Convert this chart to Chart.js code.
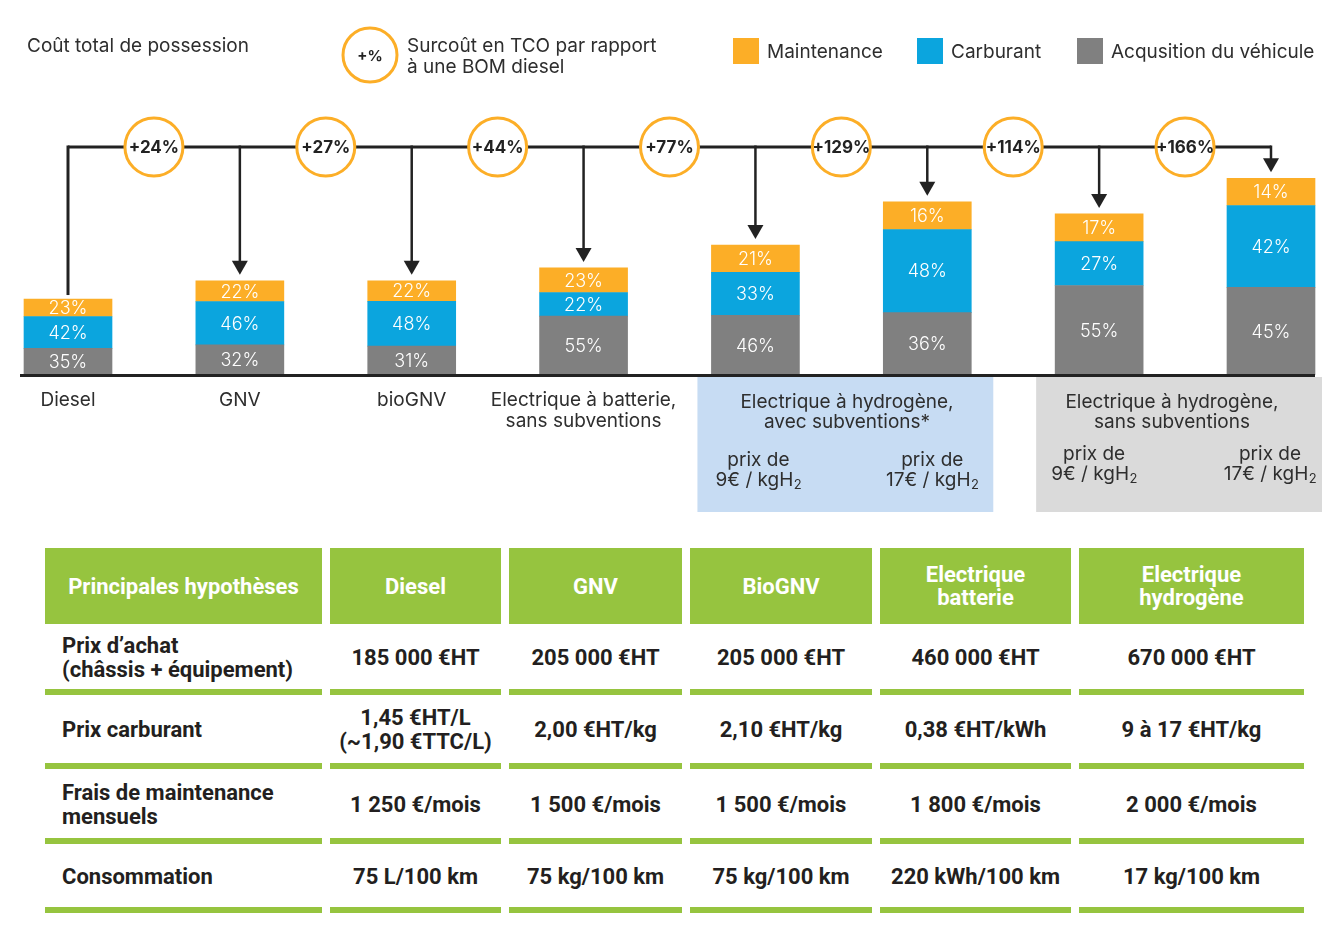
<!DOCTYPE html>
<html lang="fr">
<head>
<meta charset="utf-8">
<title>Coût total de possession</title>
<script src="https://cdn.jsdelivr.net/npm/chart.js@4.4.1/dist/chart.umd.min.js"></script>
<style>
body { margin: 0; background: #fff; font-family: Roboto, sans-serif; }
#wrap { position: relative; width: 1340px; height: 932px; overflow: hidden; }
#graphe { position: absolute; left: 0; top: 0; }
#tableau { position: absolute; left: 45px; top: 548px; display: grid;
  grid-template-columns: 277px 171px 173px 182px 191px 225px;
  grid-template-rows: 76px 71px 74px 75px 69px; column-gap: 8px; }
.th { background: #96c43f; color: #fff; font-weight: 700; font-size: 22px; line-height: 23px;
  display: flex; align-items: center; justify-content: center; text-align: center; white-space: pre-line; }
.td { box-sizing: border-box; border-bottom: 6px solid #96c43f; display: flex; align-items: center;
  justify-content: center; text-align: center; font-weight: 700; font-size: 22px; line-height: 24px;
  color: #231f20; white-space: pre-line; padding-top: 2px; }
.td.lab { justify-content: flex-start; text-align: left; padding-left: 17px; }
</style>
</head>
<body>
<div id="wrap">
  <canvas id="graphe" width="1340" height="530"></canvas>
  <div id="tableau"></div>
</div>
<script>
// données du graphique ---------------------------------------------------
// coût total (indice, diesel = 100), lu sur la hauteur des barres
var tcoIndex = [100, 124, 124, 141, 171, 228, 212, 259];
// surcoût affiché dans les cercles
var surcout = ["+24%", "+27%", "+44%", "+77%", "+129%", "+114%", "+166%"];
// parts en % de chaque poste
var partAcquisition = [35, 32, 31, 55, 46, 36, 55, 45];
var partCarburant = [42, 46, 48, 22, 33, 48, 27, 42];
var partMaintenance = [23, 22, 22, 23, 21, 16, 17, 14];
// libellés sous les barres
var categories = [
  ["Diesel"], ["GNV"], ["bioGNV"], ["Electrique à batterie,", "sans subventions"],
  ["prix de", "9€ / kgH"], ["prix de", "17€ / kgH"], ["prix de", "9€ / kgH"], ["prix de", "17€ / kgH"]
];
var groupes = [
  ["Electrique à hydrogène,", "avec subventions*"],
  ["Electrique à hydrogène,", "sans subventions"]
];

// données du tableau ------------------------------------------------------
var enTetes = ["Principales hypothèses", "Diesel", "GNV", "BioGNV", "Electrique\nbatterie", "Electrique\nhydrogène"];
var hypotheses = ["Prix d’achat\n(châssis + équipement)", "Prix carburant", "Frais de maintenance\nmensuels", "Consommation"];
var prixAchat = ["185 000 €HT", "205 000 €HT", "205 000 €HT", "460 000 €HT", "670 000 €HT"];
var prixCarburant = ["1,45 €HT/L\n(~1,90 €TTC/L)", "2,00 €HT/kg", "2,10 €HT/kg", "0,38 €HT/kWh", "9 à 17 €HT/kg"];
var fraisMaintenance = ["1 250 €/mois", "1 500 €/mois", "1 500 €/mois", "1 800 €/mois", "2 000 €/mois"];
var consommation = ["75 L/100 km", "75 kg/100 km", "75 kg/100 km", "220 kWh/100 km", "17 kg/100 km"];

var ORANGE = "#fcae27", BLEU = "#0ba5de", GRIS = "#808080", NOIR = "#222222", TEXTE = "#2e2e2e";
var POLICE = "19px Inter";

// hauteur de chaque segment = part du coût total
function segments(parts) {
  return parts.map(function (p, i) {
    var somme = partAcquisition[i] + partCarburant[i] + partMaintenance[i];
    return { x: i, y: tcoIndex[i] * p / somme };
  });
}
var lesParts = [partAcquisition, partCarburant, partMaintenance];

// texte avec un "2" en indice (kgH2)
function texteH2(ctx, txt, cx, cy) {
  ctx.font = POLICE;
  var w1 = ctx.measureText(txt).width;
  ctx.font = "13px Inter";
  var w2 = ctx.measureText("2").width;
  var x0 = cx - (w1 + w2) / 2;
  ctx.textAlign = "left";
  ctx.font = POLICE;
  ctx.fillText(txt, x0, cy);
  ctx.font = "13px Inter";
  ctx.fillText("2", x0 + w1 + 0.5, cy + 5);
  ctx.textAlign = "center";
  ctx.font = POLICE;
}

var dessin = {
  id: "dessin",
  beforeDatasetsDraw: function (chart) {
    var ctx = chart.ctx, xs = chart.scales.x;
    ctx.save();
    // encadrés hydrogène
    ctx.fillStyle = "#c7dcf3";
    ctx.fillRect(xs.getPixelForValue(4) - 58, 377, xs.getPixelForValue(5) - xs.getPixelForValue(4) + 124, 135);
    ctx.fillStyle = "#dadada";
    ctx.fillRect(xs.getPixelForValue(6) - 63, 377, xs.getPixelForValue(7) - xs.getPixelForValue(6) + 114, 135);
    ctx.restore();
  },
  afterDatasetsDraw: function (chart) {
    var ctx = chart.ctx, xs = chart.scales.x, ys = chart.scales.y;
    ctx.save();
    // % dans les segments
    ctx.fillStyle = "#ffffff";
    ctx.font = "300 18px Inter";
    ctx.textAlign = "center";
    ctx.textBaseline = "middle";
    chart.data.datasets.forEach(function (ds, d) {
      chart.getDatasetMeta(d).data.forEach(function (bar, i) {
        ctx.fillText(lesParts[d][i] + "%", bar.x, (bar.y + bar.base) / 2 + 1);
      });
    });
    // ligne de base
    ctx.strokeStyle = NOIR;
    ctx.lineWidth = 3;
    ctx.beginPath();
    ctx.moveTo(20, ys.getPixelForValue(0) + 0.5);
    ctx.lineTo(1315, ys.getPixelForValue(0) + 0.5);
    ctx.stroke();

    // accolade + flèches
    var yl = 147;
    ctx.strokeStyle = NOIR;
    ctx.fillStyle = NOIR;
    ctx.lineWidth = 3;
    ctx.beginPath();
    ctx.moveTo(xs.getPixelForValue(0), yl);
    ctx.lineTo(xs.getPixelForValue(tcoIndex.length - 1), yl);
    ctx.stroke();
    tcoIndex.forEach(function (v, i) {
      var x = xs.getPixelForValue(i), top = ys.getPixelForValue(v);
      ctx.lineWidth = i == 0 ? 3 : 2.5;
      ctx.beginPath();
      ctx.moveTo(x, yl - 1.5);
      ctx.lineTo(x, i == 0 ? top - 4 : top - 18);
      ctx.stroke();
      if (i > 0) {
        ctx.beginPath();
        ctx.moveTo(x - 8, top - 20);
        ctx.lineTo(x + 8, top - 20);
        ctx.lineTo(x, top - 6);
        ctx.closePath();
        ctx.fill();
      }
    });
    // cercles de surcoût
    surcout.forEach(function (s, i) {
      var x = (xs.getPixelForValue(i) + xs.getPixelForValue(i + 1)) / 2;
      ctx.beginPath();
      ctx.arc(x, yl, 29, 0, Math.PI * 2);
      ctx.fillStyle = "#ffffff";
      ctx.fill();
      ctx.strokeStyle = ORANGE;
      ctx.lineWidth = 3;
      ctx.stroke();
      ctx.fillStyle = NOIR;
      ctx.font = "bold 17px Inter";
      ctx.fillText(s, x, yl + 1);
    });

    // libellés sous les barres
    ctx.fillStyle = TEXTE;
    categories.forEach(function (lab, i) {
      var x = xs.getPixelForValue(i);
      ctx.font = POLICE;
      if (i < 4) {
        lab.forEach(function (l, k) { ctx.fillText(l, x, 400 + k * 21); });
      } else {
        var y0 = i < 6 ? 460 : 454;
        var dx = [0, 0, 0, 0, 3, 5, -5, -1][i];
        ctx.fillText(lab[0], x + dx, y0);
        texteH2(ctx, lab[1], x + dx, y0 + 20);
      }
    });
    ctx.font = POLICE;
    ctx.fillText(groupes[0][0], 847, 402);
    ctx.fillText(groupes[0][1], 847, 422);
    ctx.fillText(groupes[1][0], 1172, 402);
    ctx.fillText(groupes[1][1], 1172, 422);
    ctx.restore();
  },
  afterDraw: function (chart) {
    var ctx = chart.ctx;
    ctx.save();
    ctx.textBaseline = "middle";
    ctx.fillStyle = TEXTE;
    ctx.font = POLICE;
    ctx.textAlign = "left";
    ctx.fillText("Coût total de possession", 27, 46);
    ctx.fillText("Surcoût en TCO par rapport", 407, 46);
    ctx.fillText("à une BOM diesel", 407, 67);
    // cercle de légende
    ctx.beginPath();
    ctx.arc(370, 55, 27, 0, Math.PI * 2);
    ctx.strokeStyle = ORANGE;
    ctx.lineWidth = 3;
    ctx.stroke();
    ctx.fillStyle = NOIR;
    ctx.font = "bold 15px Inter";
    ctx.textAlign = "center";
    ctx.fillText("+%", 370, 56);
    // légende des séries (ordre inverse)
    var legende = chart.data.datasets.slice().reverse();
    var xl = [733, 917, 1077];
    ctx.textAlign = "left";
    ctx.font = POLICE;
    legende.forEach(function (ds, k) {
      ctx.fillStyle = ds.backgroundColor;
      ctx.fillRect(xl[k], 38, 26, 26);
      ctx.fillStyle = TEXTE;
      ctx.fillText(ds.label, xl[k] + 34, 52);
    });
    ctx.restore();
  }
};

Chart.defaults.font.family = "Inter";

var graphe = new Chart(document.getElementById("graphe"), {
  type: "bar",
  data: {
    datasets: [
      { label: "Acqusition du véhicule", data: segments(partAcquisition), backgroundColor: GRIS },
      { label: "Carburant", data: segments(partCarburant), backgroundColor: BLEU },
      { label: "Maintenance", data: segments(partMaintenance), backgroundColor: ORANGE }
    ]
  },
  options: {
    responsive: false,
    animation: false,
    barThickness: 88,
    layout: { padding: { left: 20, right: 22, top: 100, bottom: 155 } },
    plugins: { legend: { display: false }, tooltip: { enabled: false } },
    scales: {
      x: { type: "linear", offset: false, min: -0.2793, max: 7.2735, stacked: true, display: false },
      y: { min: 0, max: 362, stacked: true, display: false }
    }
  },
  plugins: [dessin]
});

// tableau des hypothèses
var tableau = document.getElementById("tableau");
function cellule(txt, classe) {
  var div = document.createElement("div");
  div.className = classe;
  div.textContent = txt;
  tableau.appendChild(div);
}
enTetes.forEach(function (t) { cellule(t, "th"); });
[prixAchat, prixCarburant, fraisMaintenance, consommation].forEach(function (ligne, r) {
  cellule(hypotheses[r], "td lab");
  ligne.forEach(function (v) { cellule(v, "td"); });
});
</script>
</body>
</html>
